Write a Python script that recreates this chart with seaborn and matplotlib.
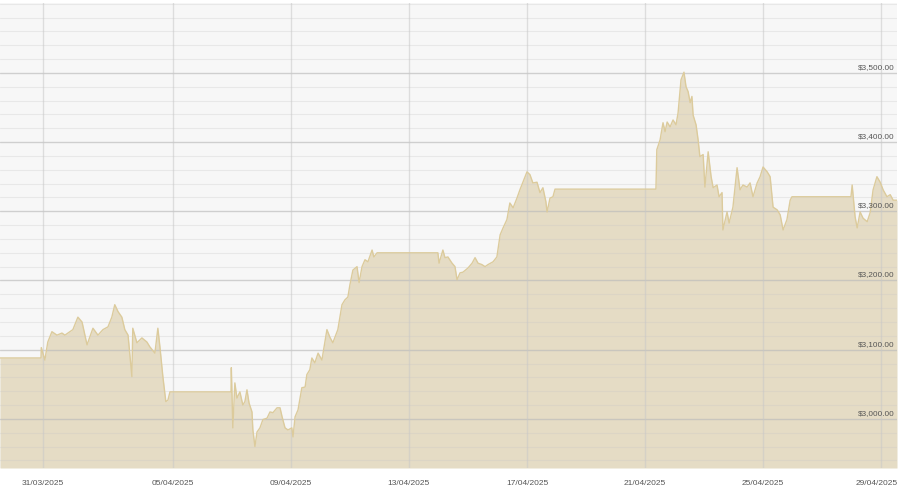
import numpy as np
import pandas as pd
import matplotlib
matplotlib.use("Agg")
import matplotlib.pyplot as plt
import matplotlib.transforms as mtransforms
import seaborn as sns

sns.set_style("white")
plt.rcParams["font.family"] = ["Liberation Sans", "DejaVu Sans"]

# days since 31/03/2025 00:00 (market closed periods show as flat runs)
days = [
    -0.86, 0.53, 0.54, 0.66, 0.76, 0.90, 1.07, 1.24, 1.34, 1.61, 1.78, 1.92, 2.09, 2.29,
    2.46, 2.63, 2.80, 2.93, 3.03, 3.14, 3.27, 3.37, 3.48, 3.61, 3.64, 3.78, 3.95, 4.12,
    4.22, 4.39, 4.49, 4.56, 4.66, 4.76, 4.83, 4.90,
    6.97, 6.98, 7.03, 7.10, 7.17, 7.27, 7.37, 7.44, 7.51, 7.58, 7.68, 7.71, 7.78, 7.85,
    7.95, 8.05, 8.19, 8.29, 8.39, 8.53, 8.63, 8.70, 8.80, 8.90, 9.03, 9.07, 9.14, 9.24,
    9.37, 9.48, 9.54, 9.64, 9.71, 9.81, 9.92, 10.05, 10.22, 10.32, 10.42, 10.59, 10.73,
    10.83, 10.93, 11.00, 11.10, 11.24, 11.31, 11.41, 11.51, 11.61, 11.75, 11.81, 11.92,
    13.98, 14.02, 14.15, 14.22, 14.32, 14.46, 14.56, 14.63, 14.73, 14.83, 15.00, 15.14,
    15.24, 15.34, 15.47, 15.58, 15.68, 15.85, 15.98, 16.09, 16.19, 16.32, 16.42, 16.53,
    16.66, 16.76, 16.86, 17.00, 17.10, 17.20, 17.34, 17.44, 17.54, 17.64, 17.68, 17.78,
    17.88, 17.95,
    21.37, 21.40, 21.51, 21.61, 21.68, 21.75, 21.85, 21.95, 22.05, 22.12, 22.22, 22.32,
    22.39, 22.46, 22.53, 22.59, 22.63, 22.73, 22.80, 22.86, 22.97, 23.03, 23.14, 23.24,
    23.31, 23.44, 23.51, 23.61, 23.64, 23.78, 23.85, 23.98, 24.12, 24.22, 24.32, 24.46,
    24.56, 24.66, 24.80, 24.90, 25.00, 25.14, 25.24, 25.34, 25.48, 25.58, 25.68, 25.81,
    25.92, 25.98,
    27.98, 28.02, 28.12, 28.19, 28.29, 28.39, 28.53, 28.63, 28.73, 28.86, 28.97, 29.07,
    29.20, 29.31, 29.41, 29.54,
]
prices = [
    3088, 3088, 3103, 3085, 3111, 3126, 3121, 3124, 3121, 3129, 3147, 3140, 3107, 3131,
    3121, 3129, 3133, 3147, 3165, 3155, 3147, 3129, 3121, 3061, 3131, 3110, 3117, 3111,
    3104, 3095, 3131, 3104, 3061, 3025, 3027, 3039,
    3039, 3074, 2987, 3052, 3030, 3039, 3020, 3025, 3042, 3023, 3010, 2984, 2960, 2981,
    2987, 2999, 3001, 3010, 3009, 3016, 3016, 3003, 2987, 2984, 2987, 2974, 3003, 3013,
    3045, 3046, 3064, 3071, 3088, 3081, 3095, 3085, 3129, 3118, 3110, 3129, 3165,
    3172, 3176, 3194, 3215, 3220, 3197, 3220, 3230, 3227, 3244, 3234, 3240,
    3240, 3225, 3244, 3233, 3234, 3225, 3220, 3201, 3211, 3212, 3218, 3225,
    3233, 3225, 3223, 3220, 3223, 3227, 3234, 3266, 3276, 3288, 3312, 3305,
    3319, 3331, 3342, 3357, 3353, 3341, 3342, 3327, 3334, 3314, 3299, 3319,
    3321, 3332,
    3332, 3389, 3403, 3428, 3415, 3429, 3422, 3432, 3425, 3442, 3490, 3501,
    3480, 3473, 3457, 3466, 3439, 3425, 3403, 3379, 3382, 3335, 3386, 3350,
    3334, 3338, 3321, 3327, 3273, 3299, 3283, 3306, 3363, 3331, 3338, 3335,
    3341, 3321, 3341, 3350, 3364, 3357, 3350, 3306, 3302, 3295, 3273, 3288,
    3316, 3321,
    3321, 3338, 3292, 3276, 3299, 3290, 3285, 3298, 3331, 3350, 3342, 3331,
    3321, 3324, 3316, 3316,
]

tick_days = [0.6, 5, 9, 13, 17, 21, 25, 29]
tick_labels = ["31/03/2025", "05/04/2025", "09/04/2025", "13/04/2025",
               "17/04/2025", "21/04/2025", "25/04/2025", "29/04/2025"]
major_levels = [3000, 3100, 3200, 3300, 3400, 3500]
minor_levels = list(range(2940, 3601, 20))

df = pd.DataFrame({"day": days, "price": prices})

fig = plt.figure(figsize=(9, 4.94), dpi=100)
ax = fig.add_axes([0.0, 26 / 494, 897 / 900, 465 / 494])
ax.set_facecolor("#f7f7f7")

y_min, y_max = 2929, 3601
ax.fill_between(df["day"], df["price"], y_min, color="#e5dcc5", zorder=1, linewidth=0)
sns.lineplot(data=df, x="day", y="price", ax=ax, color="#dccb9c", linewidth=1.0, zorder=3)

# horizontal grid (drawn over the fill, semi-transparent)
for lv in minor_levels:
    ax.axhline(lv, color="#c8c8c8", alpha=0.3, linewidth=0.8, zorder=2)
for lv in major_levels:
    ax.axhline(lv, color="#b8b8b8", alpha=0.5, linewidth=1.0, zorder=2)
for d in tick_days:
    ax.axvline(d, color="#c8c8c8", alpha=0.55, linewidth=1.0, zorder=2)

ax.set_xlim(-0.86, 29.54)
ax.set_ylim(y_min, y_max)

ax.set_xticks(tick_days)
ax.set_xticklabels(tick_labels)
ax.tick_params(axis="x", length=5, width=1.0, color="#dcdcdc", pad=3.5,
               labelsize=6, labelcolor="#555555")
# nudge the last date label left so it stays inside the canvas
last = ax.get_xticklabels()[-1]
last.set_transform(last.get_transform() + mtransforms.ScaledTranslation(-4 / 100, 0, fig.dpi_scale_trans))
ax.set_yticks([])
ax.set_xlabel("")
ax.set_ylabel("")

# price labels sit inside the plot on the right, just above each major line
trans = mtransforms.blended_transform_factory(ax.transAxes, ax.transData)
for lv in major_levels:
    ax.annotate(f"${lv:,.2f}", xy=(0.997, lv), xycoords=trans,
                xytext=(0, 1.5), textcoords="offset points",
                ha="right", va="bottom", fontsize=5.9, color="#555555", zorder=4)

for s in ax.spines.values():
    s.set_visible(False)

fig.savefig("out.png", dpi=100)
